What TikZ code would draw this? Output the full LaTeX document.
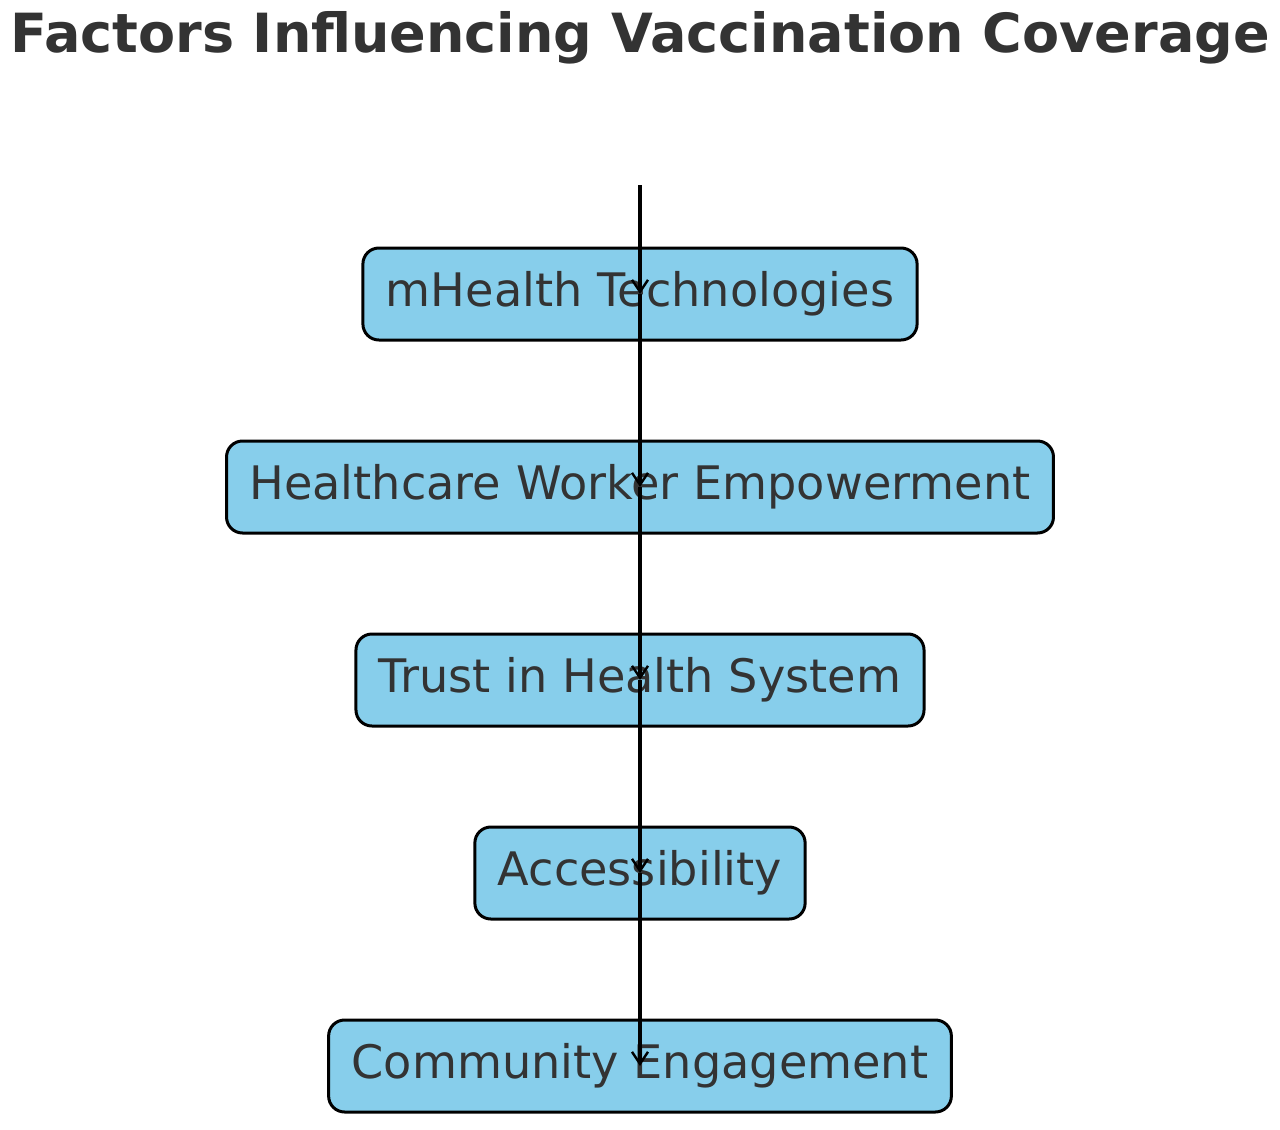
\documentclass[tikz,border=0pt]{standalone}
\usepackage{fontspec}
\setmainfont{DejaVu Sans}
\usepackage{tikz}
\usetikzlibrary{arrows.meta,positioning}

\definecolor{boxblue}{HTML}{87CEEB}
\definecolor{inkgray}{HTML}{333333}

\tikzset{
  factor/.style={draw=black,fill=boxblue,rounded corners=8pt,line width=1.5pt,
    minimum height=46pt,inner xsep=11.5pt,text=inkgray,font=\fontsize{23.1}{27}\selectfont},
  flow/.style={line width=1.6pt,-{Straight Barb[length=6pt,width=8pt,line width=1.2pt]}}
}

\begin{document}
\begin{tikzpicture}[x=0.5pt,y=-0.5pt,node distance=96.5pt]
  \useasboundingbox (0,0) rectangle (1280,1130);
  \node[text=inkgray,font=\fontsize{27}{32}\bfseries\selectfont] (title) at (640,38) {Factors Influencing Vaccination Coverage};

  \node[factor]        (m1) at (640,294)   {mHealth Technologies};
  \node[factor]        (m2) [below of=m1]  {Healthcare Worker Empowerment};
  \node[factor]        (m3) [below of=m2]  {Trust in Health System};
  \node[factor]        (m4) [below of=m3]  {Accessibility};
  \node[factor]        (m5) [below of=m4]  {Community Engagement};
  \coordinate (start) at (640,185);

  \path[flow] (start) edge (m1.center)
        (m1.center) edge (m2.center)
        (m2.center) edge (m3.center)
        (m3.center) edge (m4.center)
        (m4.center) edge (m5.center);
\end{tikzpicture}
\end{document}
